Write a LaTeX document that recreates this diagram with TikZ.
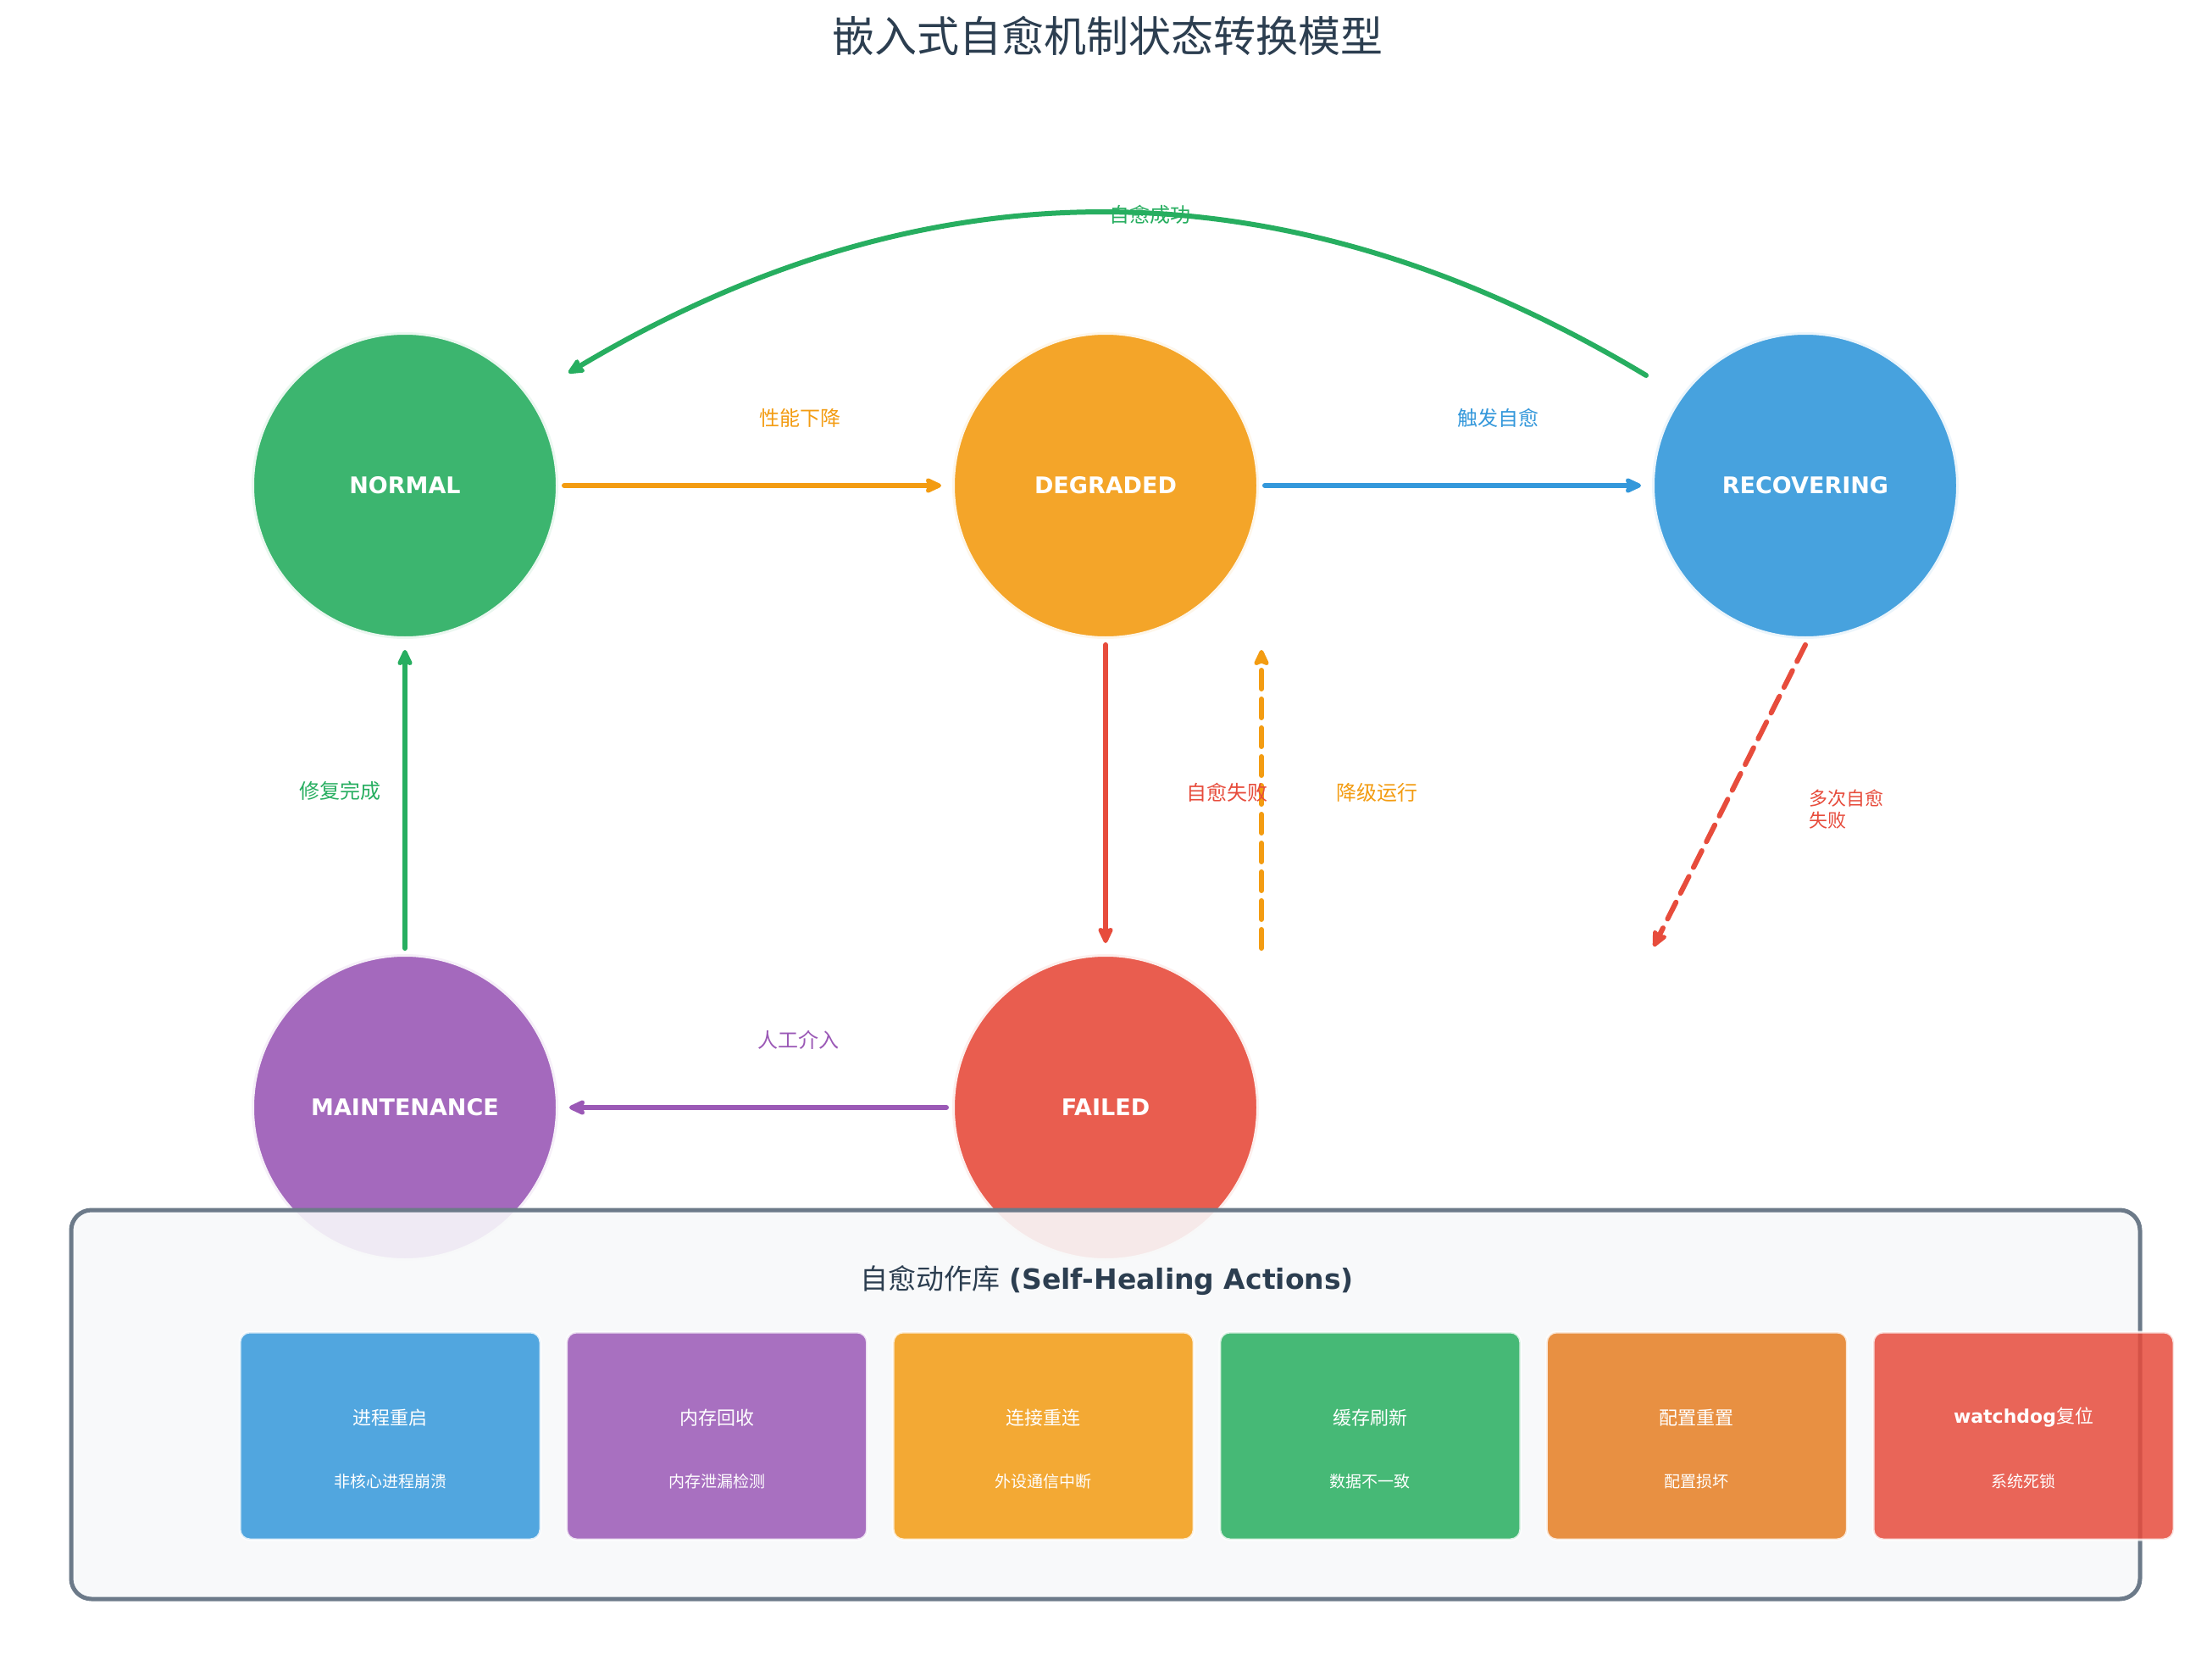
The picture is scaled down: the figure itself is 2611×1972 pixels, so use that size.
\documentclass[tikz,border=0pt]{standalone}
\usepackage{fontspec}
\setmainfont{DejaVu Sans}
\newfontfamily\cjk{Noto Sans CJK SC}
\newfontfamily\latinf{DejaVu Sans}
\usetikzlibrary{arrows.meta,calc}

\definecolor{cgreen}{HTML}{27AE60}
\definecolor{corange}{HTML}{F39C12}
\definecolor{cblue}{HTML}{3498DB}
\definecolor{cpurple}{HTML}{9B59B6}
\definecolor{cred}{HTML}{E74C3C}
\definecolor{cdorange}{HTML}{E67E22}
\definecolor{cink}{HTML}{2C3E50}
\definecolor{cpanel}{HTML}{F8F9FA}
\definecolor{cpanelline}{RGB}{108,122,137}

\newcommand{\setfs}[2]{\fontsize{#1pt}{#2pt}\selectfont}

\begin{document}
\begin{tikzpicture}[x=1pt,y=-1pt,
  state/.style={circle, minimum size=362pt, inner sep=0pt, outer sep=7pt,
    fill=#1, fill opacity=0.9, draw=white, draw opacity=0.9, line width=6pt,
    text=white, text opacity=1, font=\setfs{27}{32}\bfseries},
  lab/.style={text=#1, inner sep=0pt, font=\cjk\setfs{24}{28}},
  arr/.style={draw=#1, line width=6pt, line cap=round,
    -{Stealth[length=23pt, width=21pt, inset=4pt, round]}},
  dasharr/.style={arr=#1, dash pattern=on 22pt off 12pt},
  panel/.style={rounded corners=24pt, fill=cpanel, fill opacity=0.9,
    draw=cpanelline, line width=5pt, minimum width=2442pt, minimum height=459pt,
    inner sep=0pt},
  abox/.style={rounded corners=12pt, fill=#1, fill opacity=0.85,
    draw=white, draw opacity=0.8, line width=3pt,
    minimum width=355pt, minimum height=245pt, inner sep=0pt},
  atitle/.style={text=white, inner sep=0pt, font=\cjk\setfs{22}{26}},
  asub/.style={text=white, inner sep=0pt, font=\cjk\setfs{19}{22}},
]
% canvas
\useasboundingbox (0,0) rectangle (2611,1972);
\fill[white] (0,0) rectangle (2611,1972);

% title
\node[text=cink, inner sep=0pt, font=\cjk\setfs{50}{58}] (title) at (1307,42) {嵌入式自愈机制状态转换模型};

% states
\node[state=cgreen]  (n) at (478,573)   {NORMAL};
\node[state=corange] (d) at (1305,573)  {DEGRADED};
\node[state=cblue]   (r) at (2131,573)  {RECOVERING};
\node[state=cpurple] (m) at (478,1307)  {MAINTENANCE};
\node[state=cred]    (f) at (1305,1307) {FAILED};

% transitions
\draw[arr=corange, shorten >=6pt] (n) -- (d);
\draw[arr=cblue,   shorten >=6pt] (d) -- (r);
\draw[arr=cred,    shorten >=6pt] (d) -- (f);
\draw[arr=cpurple, shorten >=6pt] (f) -- (m);
\draw[arr=cgreen,  shorten >=6pt] (m) -- (n);
\draw[dasharr=corange, shorten >=6pt] ([xshift=184pt]f.north) -- ([xshift=184pt]d.south);
\coordinate (rfail) at (1952,1117);
\draw[dasharr=cred] (r.south) -- (rfail);
\draw[arr=cgreen] ($(r)+(-188,-130)$) .. controls (1519,188) and (1095,187) .. ($(n)+(193,-133)$);

% transition labels
\node[lab=cgreen]   (l1) at (1357,253)  {自愈成功};
\node[lab=corange]  (l2) at (944,493)   {性能下降};
\node[lab=cblue]    (l3) at (1768,493)  {触发自愈};
\node[lab=cgreen]   (l4) at (401,933)   {修复完成};
\node[lab=cred]     (l5) at (1448,935)  {自愈失败};
\node[lab=corange]  (l6) at (1625,935)  {降级运行};
\node[lab=cred, font=\cjk\setfs{22}{26}, align=left, anchor=north west] (l7) at (2135,932) {多次自愈\\失败};
\node[lab=cpurple]  (l8) at (942,1227)  {人工介入};

% action library panel
\node[panel] (lib) at (1305,1657.5) {};
\node[text=cink, inner sep=0pt, font=\setfs{33}{38}] (libtitle) at (1307,1511)
  {{\cjk 自愈动作库} {\bfseries (Self-Healing Actions)}};

\foreach \i/\c/\t/\s in {
  1/cblue/进程重启/非核心进程崩溃,
  2/cpurple/内存回收/内存泄漏检测,
  3/corange/连接重连/外设通信中断,
  4/cgreen/缓存刷新/数据不一致,
  5/cdorange/配置重置/配置损坏,
  6/cred/{{\latinf\bfseries watchdog}复位}/系统死锁} {
  \pgfmathsetmacro\bx{460.5+385.6*(\i-1)}
  \node[abox=\c] (box\i) at (\bx,1694.5) {};
  \node[atitle] (boxt\i) at (\bx,1673) {\t};
  \node[asub]   (boxs\i) at (\bx,1748) {\s};
}
\end{tikzpicture}
\end{document}
